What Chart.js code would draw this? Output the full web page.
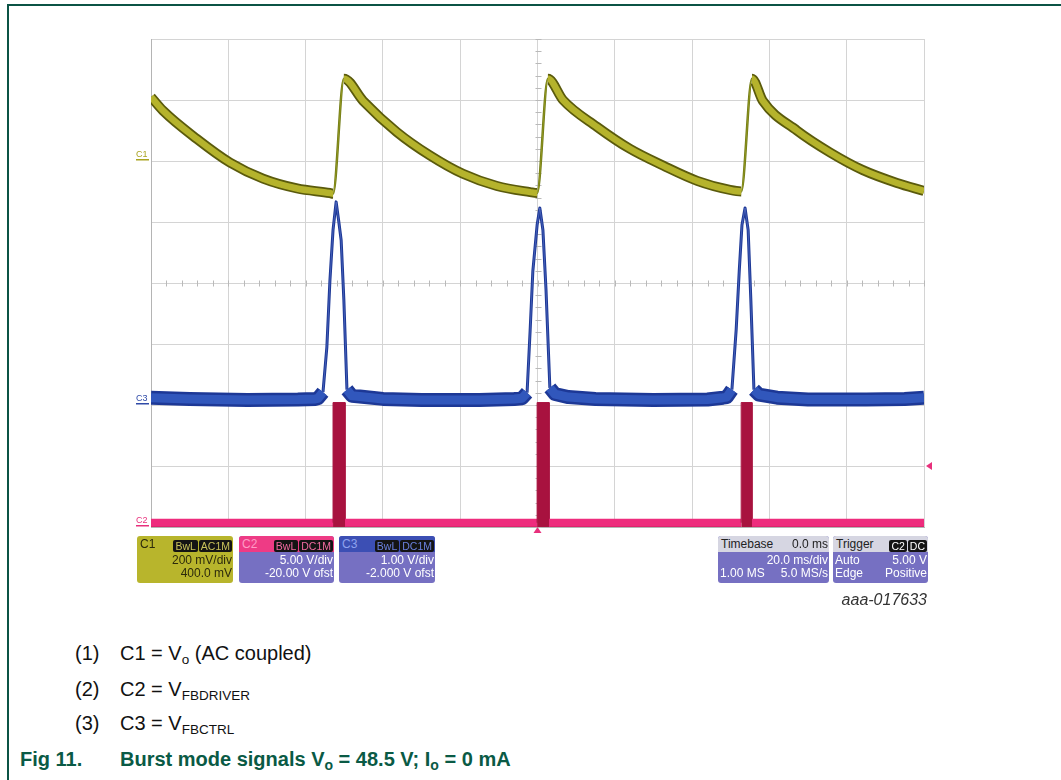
<!DOCTYPE html>
<html>
<head>
<meta charset="utf-8">
<script src="https://cdn.jsdelivr.net/npm/chart.js@4.4.1/dist/chart.umd.min.js"></script>
<style>
body { margin:0; background:#fff; width:1061px; height:780px; position:relative; overflow:hidden; font-family:"Liberation Sans", Arial, sans-serif; }
.frame-top { position:absolute; left:7px; top:4px; width:1054px; height:2px; background:#0b5345; }
.frame-left { position:absolute; left:7px; top:4px; width:2px; height:776px; background:#0b5345; }
#wrap { position:absolute; left:120px; top:30px; width:830px; height:515px; }
.box { position:absolute; top:536px; height:47px; border-radius:3px; font-size:12px; overflow:hidden; background:#7670c2; color:#fff; }
.hdr { height:16px; line-height:16px; position:relative; padding:0 3px; }
.hdr .r { position:absolute; right:1px; top:2px; }
.badge { display:inline-block; background:#141414; border-radius:2px; padding:0 2px; height:12px; line-height:12px; font-size:10.5px; margin-left:1px; }
.row { height:13px; line-height:13px; position:relative; padding:0 2px; }
.row .l { position:absolute; left:2px; }
.row .r { position:absolute; right:1px; }
.cap { position:absolute; left:75px; font-size:20px; color:#111; }
.cap .t { position:absolute; left:45px; white-space:nowrap; }
sub { font-size:13.5px; vertical-align:-4px; line-height:0; }
.title { position:absolute; left:20px; top:748px; font-size:20px; font-weight:bold; color:#0a5a45; white-space:nowrap; }
.title sub { font-size:14px; }
</style>
</head>
<body>
<div class="frame-top"></div>
<div class="frame-left"></div>
<div id="wrap"><canvas id="scope"></canvas></div>

<div class="box" style="left:137px;width:96px;background:#b8b52c;color:#2c2a0c;">
  <div class="hdr">C1<span class="r"><span class="badge" style="color:#c8c25a">BwL</span><span class="badge" style="color:#c8c25a">AC1M</span></span></div>
  <div class="row" style="margin-top:2px"><span class="r">200 mV/div</span></div>
  <div class="row"><span class="r">400.0 mV</span></div>
</div>
<div class="box" style="left:239px;width:95px;">
  <div class="hdr" style="background:#ee3b85;color:#ff9cc6">C2<span class="r"><span class="badge" style="color:#f06aa0">BwL</span><span class="badge" style="color:#f06aa0">DC1M</span></span></div>
  <div class="row" style="margin-top:2px"><span class="r">5.00 V/div</span></div>
  <div class="row"><span class="r">-20.00 V ofst</span></div>
</div>
<div class="box" style="left:339px;width:96px;">
  <div class="hdr" style="background:#3c4fb4;color:#8fa2ee">C3<span class="r"><span class="badge" style="color:#6a80dd">BwL</span><span class="badge" style="color:#6a80dd">DC1M</span></span></div>
  <div class="row" style="margin-top:2px"><span class="r">1.00 V/div</span></div>
  <div class="row"><span class="r">-2.000 V ofst</span></div>
</div>
<div class="box" style="left:718px;width:111px;">
  <div class="hdr" style="background:#d6d6e2;color:#222">Timebase<span class="r" style="top:0">0.0 ms</span></div>
  <div class="row" style="margin-top:2px"><span class="r">20.0 ms/div</span></div>
  <div class="row"><span class="l">1.00 MS</span><span class="r">5.0 MS/s</span></div>
</div>
<div class="box" style="left:833px;width:95px;">
  <div class="hdr" style="background:#d6d6e2;color:#222">Trigger<span class="r"><span class="badge" style="color:#fff">C2</span><span class="badge" style="color:#fff">DC</span></span></div>
  <div class="row" style="margin-top:2px"><span class="l">Auto</span><span class="r">5.00 V</span></div>
  <div class="row"><span class="l">Edge</span><span class="r">Positive</span></div>
</div>
<div style="position:absolute;right:134px;top:591px;font-size:16px;font-style:italic;color:#333;">aaa-017633</div>

<div class="cap" style="top:642px">(1)<span class="t">C1 = V<sub>o</sub> (AC coupled)</span></div>
<div class="cap" style="top:678px">(2)<span class="t">C2 = V<sub>FBDRIVER</sub></span></div>
<div class="cap" style="top:712px">(3)<span class="t">C3 = V<sub>FBCTRL</sub></span></div>
<div class="title">Fig 11.<span style="position:absolute;left:100px">Burst mode signals V<sub>o</sub> = 48.5 V; I<sub>o</sub> = 0 mA</span></div>

<script>
// time axis in ms (20 ms/div, trigger at centre)
var timeMin = -100, timeMax = 100, timeStep = 20;
var divMin = -4, divMax = 4;

// channel settings: volts per division and offset
var c1Scale = { vPerDiv: 0.2, offset: 0.4 };
var c2Scale = { vPerDiv: 5, offset: -20 };
var c3Scale = { vPerDiv: 1, offset: -2 };

// C1 = Vo (AC coupled), volts
var c1Time  = [-100, -96.9, -88.1, -79.6, -71.0, -62.2, -53.7, -52.9, -50.1, -45.1, -36.4, -27.8, -19.3, -10.5, -1.9, -0.1, 2.7, 6.6, 15.4, 23.9, 32.5, 41.3, 49.8, 52.7, 55.5, 58.3, 67.1, 75.7, 84.2, 93.0, 100];
var c1Volts = [0.21, 0.165, 0.072, -0.005, -0.058, -0.09, -0.105, -0.107, 0.27, 0.197, 0.095, 0.018, -0.042, -0.082, -0.102, -0.105, 0.27, 0.2, 0.112, 0.04, -0.015, -0.065, -0.095, -0.1, 0.27, 0.197, 0.1, 0.028, -0.03, -0.072, -0.098];

// C2 = VFBDRIVER, volts (burst packets)
var c2Time  = [-100, -52.9, -52.9, -49.8, -49.8, -0.1, -0.1, 3.0, 3.0, 52.7, 52.7, 55.5, 55.5, 100];
var c2Volts = [0.35, 0.35, 10.2, 10.2, 0.35, 0.35, 10.2, 10.2, 0.35, 0.35, 10.2, 10.2, 0.35, 0.35];

// C3 = VFBCTRL, volts
var c3Time  = [-100, -90, -75, -62, -57.5, -56.8, -55.5, -54.5, -53.7, -52.9, -52.1, -51.4, -50.8, -50.1, -49.3, -48.0, -46, -40, -30, -15, -6, -4.0, -2.7, -1.9, -1.2, -0.1, 0.6, 1.4, 2.2, 3.2, 4.5, 8, 15, 30, 44, 48, 49.0, 50.3, 51.4, 52.2, 52.9, 53.7, 54.5, 55.2, 56.0, 57.3, 62, 70, 85, 95, 100];
var c3Volts = [0.12, 0.1, 0.08, 0.09, 0.1, 0.11, 0.21, 0.95, 2.05, 2.87, 3.33, 3.0, 2.7, 1.72, 0.25, 0.15, 0.14, 0.1, 0.08, 0.08, 0.1, 0.11, 0.2, 1.23, 2.2, 2.95, 3.23, 2.87, 1.89, 0.28, 0.18, 0.13, 0.1, 0.08, 0.09, 0.12, 0.13, 0.25, 1.23, 2.2, 2.95, 3.23, 2.87, 1.72, 0.25, 0.17, 0.12, 0.09, 0.09, 0.1, 0.12];

var triggerLevel = 5;   // volts on C2

function toDivs(times, volts, ch) {
    return times.map(function (t, i) {
        return { x: t, y: (volts[i] + ch.offset) / ch.vPerDiv };
    });
}

var c1Pts = toDivs(c1Time, c1Volts, c1Scale);
var c2Pts = toDivs(c2Time, c2Volts, c2Scale);
var c3Pts = toDivs(c3Time, c3Volts, c3Scale);

// thin line on steep edges, thick noisy band elsewhere
function c1Rise(ctx) { return ctx.p1.parsed.y - ctx.p0.parsed.y > 0.3; }
function c3High(ctx) {
    return (ctx.p0.parsed.y > c3Scale.offset + 0.4) || (ctx.p1.parsed.y > c3Scale.offset + 0.4);
}
function c2High(ctx) {
    var base = c2Scale.offset / c2Scale.vPerDiv + 0.5;
    return ctx.p0.parsed.y > base || ctx.p1.parsed.y > base;
}

var scopeMarks = {
    id: 'scopeMarks',
    beforeDatasetsDraw: function (chart) {
        var ctx = chart.ctx, x = chart.scales.x, y = chart.scales.y;
        ctx.save();
        ctx.strokeStyle = '#b9b9b9';
        ctx.lineWidth = 1;
        var y0 = Math.round(y.getPixelForValue(0)) + 0.5;
        var x0 = Math.round(x.getPixelForValue(0)) + 0.5;
        ctx.beginPath();
        for (var t = timeMin; t <= timeMax; t += timeStep / 5) {
            var px = Math.round(x.getPixelForValue(t)) + 0.5;
            ctx.moveTo(px, y0 - 3); ctx.lineTo(px, y0 + 3);
        }
        for (var d = divMin; d <= divMax + 0.001; d += 0.2) {
            var py = Math.round(y.getPixelForValue(d)) + 0.5;
            ctx.moveTo(x0 - 3, py); ctx.lineTo(x0 + 3, py);
        }
        ctx.stroke();
        ctx.restore();
    },
    afterDatasetsDraw: function (chart) {
        var ctx = chart.ctx, a = chart.chartArea, x = chart.scales.x, y = chart.scales.y;
        ctx.save();
        // ground markers
        var marks = [
            { name: 'C1', ch: c1Scale, col: '#a9a421' },
            { name: 'C3', ch: c3Scale, col: '#2f4aa8' },
            { name: 'C2', ch: c2Scale, col: '#e8307c' }
        ];
        ctx.font = '9px "Liberation Sans", Arial, sans-serif';
        ctx.textBaseline = 'bottom';
        marks.forEach(function (m) {
            var gy = Math.min(y.getPixelForValue(m.ch.offset / m.ch.vPerDiv), a.bottom);
            ctx.fillStyle = m.col;
            ctx.fillText(m.name, a.left - 15, gy - 2);
            ctx.fillRect(a.left - 15, gy - 2, 13, 1.5);
        });
        // trigger level on the right
        var ty = y.getPixelForValue((triggerLevel + c2Scale.offset) / c2Scale.vPerDiv);
        ctx.fillStyle = '#e8307c';
        ctx.beginPath();
        ctx.moveTo(a.right + 2, ty);
        ctx.lineTo(a.right + 8, ty - 4);
        ctx.lineTo(a.right + 8, ty + 4);
        ctx.closePath();
        ctx.fill();
        // trigger position at the bottom
        var tx = x.getPixelForValue(0);
        ctx.beginPath();
        ctx.moveTo(tx, a.bottom);
        ctx.lineTo(tx - 4, a.bottom + 6);
        ctx.lineTo(tx + 4, a.bottom + 6);
        ctx.closePath();
        ctx.fill();
        ctx.restore();
    }
};

new Chart(document.getElementById('scope'), {
    type: 'line',
    data: {
        datasets: [
            { data: c1Pts, borderColor: '#b5b32c', borderWidth: 6.5, pointRadius: 0, cubicInterpolationMode: 'monotone',
              segment: { borderWidth: function (ctx) { return c1Rise(ctx) ? 0.5 : undefined; } } },
            { data: c1Pts, borderColor: '#5a5a0c', borderWidth: 10, pointRadius: 0, cubicInterpolationMode: 'monotone',
              segment: {
                  borderWidth: function (ctx) { return c1Rise(ctx) ? 2.5 : undefined; },
                  borderColor: function (ctx) { return c1Rise(ctx) ? '#6f7a14' : undefined; }
              } },
            { data: c3Pts, borderColor: '#3157bc', borderWidth: 9, pointRadius: 0, tension: 0, borderJoinStyle: 'round',
              segment: {
                  borderWidth: function (ctx) { return c3High(ctx) ? 0.5 : undefined; },
                  borderColor: function (ctx) { return c3High(ctx) ? '#6d86d8' : undefined; }
              } },
            { data: c3Pts, borderColor: '#1d3896', borderWidth: 14, pointRadius: 0, tension: 0, borderJoinStyle: 'round',
              segment: { borderWidth: function (ctx) { return c3High(ctx) ? 3 : undefined; } } },
            { data: c2Pts, borderColor: '#ee2c7d', borderWidth: 8, pointRadius: 0, borderCapStyle: 'butt',
              fill: 'start', backgroundColor: '#a8123f',
              segment: {
                  borderColor: function (ctx) { return c2High(ctx) ? '#a8123f' : undefined; },
                  borderWidth: function (ctx) { return c2High(ctx) ? 1 : undefined; }
              } }
        ]
    },
    options: {
        responsive: true,
        maintainAspectRatio: false,
        animation: false,
        layout: { padding: { left: 31, top: 9, right: 26, bottom: 18 } },
        plugins: { legend: { display: false }, tooltip: { enabled: false } },
        scales: {
            x: {
                type: 'linear', min: timeMin, max: timeMax,
                ticks: { stepSize: timeStep, display: false },
                grid: { color: '#d4d4d4', drawTicks: false },
                border: { color: '#b4b4b4' }
            },
            y: {
                type: 'linear', min: divMin, max: divMax,
                ticks: { stepSize: 1, display: false },
                grid: { color: '#d4d4d4', drawTicks: false },
                border: { color: '#b4b4b4' }
            }
        }
    },
    plugins: [scopeMarks]
});
</script>
</body>
</html>
